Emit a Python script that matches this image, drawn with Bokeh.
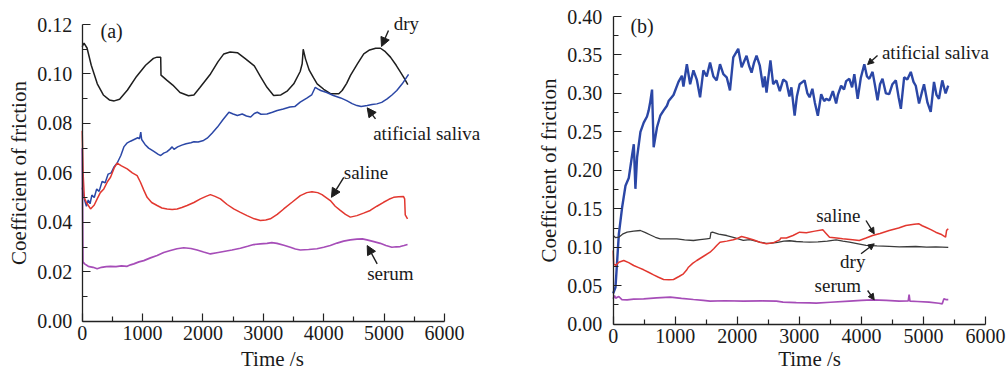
from bokeh.plotting import figure
from bokeh.layouts import row
from bokeh.models import FixedTicker, NumeralTickFormatter, Label, Arrow, NormalHead
from bokeh.embed import file_html
from bokeh.resources import INLINE

# ---------------- data ----------------
x_ticks = [0, 1000, 2000, 3000, 4000, 5000, 6000]
x_minor = [500, 1500, 2500, 3500, 4500, 5500]
ya_ticks = [0.00, 0.02, 0.04, 0.06, 0.08, 0.10, 0.12]
ya_minor = [0.01, 0.03, 0.05, 0.07, 0.09, 0.11]
yb_ticks = [0.00, 0.05, 0.10, 0.15, 0.20, 0.25, 0.30, 0.35, 0.40]
yb_minor = [0.025, 0.075, 0.125, 0.175, 0.225, 0.275, 0.325, 0.375]

# panel (a)
dry_a_t = [0, 30, 80, 150, 250, 350, 450, 530, 620, 750, 900, 1050, 1180, 1240, 1300, 1305, 1400, 1500, 1620, 1760, 1850, 1950, 2125, 2250, 2345, 2450, 2570, 2700, 2850, 2950, 3060, 3170, 3290, 3400, 3504, 3610, 3643, 3660, 3698, 3760, 3830, 3891, 4000, 4112, 4250, 4305, 4380, 4443, 4560, 4663, 4760, 4860, 4940, 5020, 5105, 5200, 5271, 5340, 5392]
dry_a_v = [0.1110, 0.1125, 0.1105, 0.1035, 0.0960, 0.0915, 0.0895, 0.0891, 0.0898, 0.0935, 0.0990, 0.1035, 0.1063, 0.1068, 0.1068, 0.0995, 0.0975, 0.0955, 0.0925, 0.0912, 0.0915, 0.0945, 0.1000, 0.1050, 0.1081, 0.1089, 0.1086, 0.1062, 0.1033, 0.0990, 0.0946, 0.0913, 0.0915, 0.0932, 0.0960, 0.1010, 0.1041, 0.1100, 0.1061, 0.1015, 0.0985, 0.0960, 0.0938, 0.0920, 0.0920, 0.0933, 0.0962, 0.0994, 0.1042, 0.1081, 0.1097, 0.1104, 0.1104, 0.1090, 0.1068, 0.1035, 0.1007, 0.0980, 0.0957]

sal_a_t = [0, 40, 70, 100, 130, 160, 200, 240, 280, 330, 380, 430, 480, 530, 580, 640, 690, 740, 800, 860, 920, 950, 970, 985, 1040, 1100, 1180, 1260, 1300, 1350, 1400, 1450, 1490, 1520, 1580, 1650, 1720, 1800, 1850, 1920, 2010, 2070, 2150, 2240, 2330, 2430, 2500, 2570, 2650, 2720, 2790, 2850, 2900, 2960, 3060, 3150, 3230, 3330, 3440, 3520, 3610, 3720, 3800, 3860, 3900, 3950, 4050, 4160, 4280, 4380, 4470, 4550, 4620, 4720, 4800, 4880, 4960, 5050, 5130, 5210, 5300, 5405]
sal_a_v = [0.0540, 0.0490, 0.0465, 0.0490, 0.0475, 0.0510, 0.0500, 0.0535, 0.0525, 0.0565, 0.0560, 0.0595, 0.0600, 0.0625, 0.0640, 0.0670, 0.0705, 0.0720, 0.0728, 0.0735, 0.0742, 0.0738, 0.0765, 0.0735, 0.0715, 0.0700, 0.0688, 0.0675, 0.0670, 0.0680, 0.0685, 0.0695, 0.0705, 0.0695, 0.0705, 0.0712, 0.0718, 0.0722, 0.0726, 0.0725, 0.0731, 0.0740, 0.0760, 0.0785, 0.0815, 0.0845, 0.0838, 0.0832, 0.0838, 0.0830, 0.0826, 0.0840, 0.0845, 0.0837, 0.0838, 0.0845, 0.0852, 0.0858, 0.0866, 0.0868, 0.0886, 0.0902, 0.0915, 0.0946, 0.0940, 0.0933, 0.0925, 0.0913, 0.0903, 0.0892, 0.0880, 0.0872, 0.0868, 0.0872, 0.0876, 0.0879, 0.0885, 0.0899, 0.0915, 0.0933, 0.0960, 0.0998]

saline_a_t = [0, 15, 35, 70, 138, 200, 248, 300, 358, 420, 469, 530, 579, 650, 745, 830, 910, 965, 1020, 1075, 1150, 1241, 1320, 1406, 1490, 1572, 1650, 1737, 1850, 1958, 2050, 2123, 2200, 2289, 2400, 2509, 2620, 2730, 2850, 2951, 3040, 3116, 3230, 3337, 3480, 3612, 3720, 3805, 3900, 3971, 4040, 4109, 4190, 4274, 4360, 4440, 4550, 4660, 4770, 4880, 4991, 5080, 5157, 5240, 5322, 5340, 5350, 5388]
saline_a_v = [0.0770, 0.0600, 0.0500, 0.0480, 0.0454, 0.0470, 0.0495, 0.0520, 0.0535, 0.0565, 0.0582, 0.0620, 0.0639, 0.0628, 0.0616, 0.0600, 0.0589, 0.0562, 0.0530, 0.0501, 0.0480, 0.0468, 0.0458, 0.0454, 0.0452, 0.0454, 0.0460, 0.0468, 0.0480, 0.0495, 0.0505, 0.0512, 0.0505, 0.0495, 0.0472, 0.0454, 0.0440, 0.0427, 0.0414, 0.0407, 0.0409, 0.0414, 0.0432, 0.0454, 0.0482, 0.0508, 0.0520, 0.0524, 0.0520, 0.0512, 0.0500, 0.0488, 0.0465, 0.0448, 0.0432, 0.0421, 0.0427, 0.0437, 0.0448, 0.0465, 0.0481, 0.0493, 0.0501, 0.0503, 0.0504, 0.0495, 0.0430, 0.0414]

serum_a_t = [0, 12, 40, 100, 180, 248, 320, 400, 469, 560, 650, 745, 800, 855, 940, 1020, 1130, 1241, 1350, 1461, 1570, 1682, 1800, 1903, 2010, 2123, 2230, 2344, 2480, 2620, 2740, 2840, 2950, 3061, 3140, 3226, 3340, 3447, 3530, 3612, 3750, 3888, 4000, 4109, 4220, 4329, 4440, 4550, 4640, 4715, 4830, 4936, 5030, 5129, 5200, 5267, 5330, 5388]
serum_a_v = [0.0700, 0.0240, 0.0232, 0.0222, 0.0218, 0.0212, 0.0218, 0.0221, 0.0222, 0.0221, 0.0224, 0.0222, 0.0228, 0.0232, 0.0240, 0.0245, 0.0256, 0.0266, 0.0278, 0.0286, 0.0293, 0.0297, 0.0294, 0.0288, 0.0280, 0.0272, 0.0277, 0.0282, 0.0288, 0.0295, 0.0303, 0.0310, 0.0313, 0.0315, 0.0318, 0.0315, 0.0307, 0.0299, 0.0292, 0.0288, 0.0290, 0.0293, 0.0299, 0.0306, 0.0316, 0.0324, 0.0329, 0.0332, 0.0333, 0.0329, 0.0322, 0.0315, 0.0306, 0.0299, 0.0301, 0.0302, 0.0306, 0.0310]

# panel (b)
sal_b_t = [0, 37, 91, 144, 198, 251, 305, 332, 358, 385, 439, 492, 545, 572, 599, 626, 652, 706, 759, 813, 866, 893, 972, 1052, 1107, 1132, 1187, 1240, 1293, 1347, 1400, 1453, 1507, 1561, 1615, 1668, 1721, 1775, 1829, 1882, 1935, 2015, 2070, 2149, 2190, 2230, 2270, 2310, 2363, 2416, 2443, 2471, 2534, 2578, 2630, 2685, 2740, 2791, 2840, 2872, 2924, 2960, 3004, 3084, 3130, 3165, 3210, 3250, 3298, 3352, 3400, 3433, 3485, 3540, 3593, 3621, 3673, 3720, 3754, 3806, 3850, 3886, 3940, 3990, 4047, 4090, 4127, 4180, 4220, 4260, 4300, 4340, 4395, 4448, 4500, 4555, 4600, 4636, 4689, 4740, 4796, 4840, 4876, 4929, 4970, 5009, 5065, 5117, 5170, 5210, 5250, 5303, 5357, 5399]
sal_b_v = [0.040, 0.048, 0.117, 0.152, 0.180, 0.190, 0.220, 0.234, 0.176, 0.217, 0.250, 0.262, 0.270, 0.278, 0.290, 0.305, 0.230, 0.256, 0.271, 0.278, 0.284, 0.290, 0.298, 0.315, 0.323, 0.309, 0.338, 0.312, 0.330, 0.318, 0.295, 0.330, 0.322, 0.340, 0.322, 0.317, 0.338, 0.325, 0.321, 0.304, 0.347, 0.358, 0.334, 0.349, 0.336, 0.327, 0.340, 0.349, 0.336, 0.308, 0.322, 0.301, 0.343, 0.312, 0.317, 0.303, 0.318, 0.315, 0.296, 0.308, 0.271, 0.296, 0.312, 0.317, 0.300, 0.295, 0.306, 0.288, 0.271, 0.299, 0.290, 0.293, 0.291, 0.303, 0.287, 0.298, 0.310, 0.305, 0.316, 0.319, 0.308, 0.325, 0.293, 0.320, 0.338, 0.322, 0.319, 0.328, 0.310, 0.291, 0.312, 0.319, 0.300, 0.299, 0.312, 0.317, 0.295, 0.280, 0.321, 0.318, 0.328, 0.315, 0.310, 0.287, 0.300, 0.312, 0.288, 0.276, 0.315, 0.298, 0.293, 0.317, 0.300, 0.310]

dry_b_t = [0, 40, 90, 150, 224, 330, 438, 520, 600, 680, 759, 900, 1026, 1150, 1293, 1400, 1507, 1560, 1575, 1600, 1700, 1829, 1950, 2096, 2202, 2300, 2364, 2450, 2524, 2650, 2750, 2844, 2950, 3060, 3165, 3300, 3450, 3593, 3700, 3807, 3950, 4075, 4250, 4450, 4610, 4876, 5050, 5200, 5400]
dry_b_v = [0.1153, 0.1125, 0.1131, 0.1170, 0.1196, 0.1210, 0.1218, 0.1190, 0.1160, 0.1130, 0.1110, 0.1108, 0.1110, 0.1095, 0.1088, 0.1100, 0.1110, 0.1115, 0.1190, 0.1196, 0.1170, 0.1153, 0.1125, 0.1090, 0.1100, 0.1080, 0.1066, 0.1055, 0.1050, 0.1065, 0.1080, 0.1085, 0.1075, 0.1070, 0.1066, 0.1070, 0.1080, 0.1097, 0.1080, 0.1066, 0.1045, 0.1025, 0.1018, 0.1012, 0.1005, 0.1010, 0.1003, 0.1005, 0.0998]

saline_b_t = [0, 8, 40, 90, 170, 250, 330, 410, 491, 570, 651, 730, 812, 900, 972, 1060, 1132, 1180, 1213, 1280, 1347, 1450, 1561, 1620, 1668, 1721, 1830, 1935, 2000, 2069, 2160, 2255, 2363, 2470, 2576, 2684, 2700, 2791, 2897, 3004, 3112, 3250, 3378, 3420, 3486, 3600, 3699, 3859, 3966, 4075, 4180, 4300, 4448, 4600, 4716, 4850, 4929, 4980, 5036, 5120, 5197, 5280, 5357, 5373, 5400]
saline_b_v = [0.0958, 0.0780, 0.0765, 0.0806, 0.0828, 0.0800, 0.0763, 0.0735, 0.0707, 0.0675, 0.0642, 0.0610, 0.0581, 0.0578, 0.0581, 0.0620, 0.0655, 0.0700, 0.0741, 0.0790, 0.0828, 0.0880, 0.0936, 0.0980, 0.1023, 0.1066, 0.1080, 0.1097, 0.1115, 0.1140, 0.1120, 0.1097, 0.1066, 0.1045, 0.1058, 0.1097, 0.1120, 0.1120, 0.1153, 0.1196, 0.1190, 0.1210, 0.1227, 0.1190, 0.1131, 0.1120, 0.1110, 0.1097, 0.1088, 0.1120, 0.1153, 0.1180, 0.1218, 0.1250, 0.1283, 0.1300, 0.1305, 0.1280, 0.1261, 0.1230, 0.1196, 0.1170, 0.1131, 0.1220, 0.1240]

serum_b_t = [0, 20, 40, 90, 140, 224, 330, 491, 700, 919, 1100, 1293, 1450, 1561, 1800, 2096, 2400, 2631, 2737, 2950, 3165, 3272, 3500, 3807, 4000, 4180, 4400, 4608, 4755, 4769, 4782, 4900, 5090, 5250, 5303, 5330, 5360, 5400]
serum_b_v = [0.0330, 0.0373, 0.0339, 0.0360, 0.0320, 0.0317, 0.0325, 0.0330, 0.0343, 0.0351, 0.0335, 0.0321, 0.0310, 0.0299, 0.0305, 0.0299, 0.0302, 0.0299, 0.0286, 0.0280, 0.0278, 0.0273, 0.0285, 0.0300, 0.0310, 0.0317, 0.0310, 0.0300, 0.0303, 0.0386, 0.0300, 0.0295, 0.0286, 0.0272, 0.0265, 0.0330, 0.0320, 0.0320]

# ---------------- styling ----------------
FONT = "Liberation Serif"
BLACK = "#1e1e1e"
BLUE = "#2b47a6"
RED = "#e2372f"
PURPLE = "#a64db8"
TXT = "#1a1a1a"
H = 372


def base_fig(width, xr, yr, xb, yb, yt, ym, ystand):
    # the frame fills the canvas; the axes sit at x=0 / y=0 and span only their bounds
    p = figure(width=width, height=H, x_range=xr, y_range=yr,
               output_backend="svg", toolbar_location=None,
               min_border_left=0, min_border_right=0,
               min_border_top=0, min_border_bottom=0)
    p.grid.visible = False
    p.outline_line_color = None
    p.background_fill_color = "white"
    p.border_fill_color = "white"
    for ax in (p.xaxis[0], p.yaxis[0]):
        ax.fixed_location = 0
        ax.axis_line_color = "#222222"
        ax.axis_line_width = 1.3
        ax.major_tick_line_color = "#222222"
        ax.major_tick_line_width = 1.2
        ax.minor_tick_line_color = "#222222"
        ax.minor_tick_line_width = 1.2
        ax.major_tick_in = 8
        ax.major_tick_out = 0
        ax.minor_tick_in = 5
        ax.minor_tick_out = 0
        ax.major_label_text_font = FONT
        ax.major_label_text_font_size = "20px"
        ax.major_label_text_color = TXT
    p.xaxis.bounds = xb
    p.yaxis.bounds = yb
    p.xaxis.ticker = FixedTicker(ticks=x_ticks, minor_ticks=x_minor)
    p.xaxis.major_label_standoff = 5
    p.yaxis.ticker = FixedTicker(ticks=yt, minor_ticks=ym)
    p.yaxis.formatter = NumeralTickFormatter(format="0.00")
    p.yaxis.major_label_standoff = ystand
    p.yaxis.axis_label = "Coefficient of friction"
    p.yaxis.axis_label_text_font = FONT
    p.yaxis.axis_label_text_font_size = "21px"
    p.yaxis.axis_label_text_font_style = "normal"
    p.yaxis.axis_label_text_color = TXT
    p.yaxis.axis_label_standoff = 4
    return p


def add_text(p, x, y, text, size="19px", align="left", baseline="middle"):
    p.add_layout(Label(x=x, y=y, text=text, text_font=FONT, text_font_size=size,
                       text_color=TXT, text_align=align, text_baseline=baseline))


def add_arrow(p, xs, ys, xe, ye, size):
    p.add_layout(Arrow(end=NormalHead(size=size, fill_color=BLACK, line_color=BLACK, line_width=1),
                       x_start=xs, y_start=ys, x_end=xe, y_end=ye,
                       line_color=BLACK, line_width=1.4))


# ---------------- panel (a) ----------------
# canvas 500 x 372: x=0 at 81.7 px, x=6000 at 444 px; y=0 at 320.7 px, y=0.12 at 24 px
pa = base_fig(500, (-1353.0, 6927.4), (-0.020748, 0.129707), (0, 6000), (0, 0.12),
              ya_ticks, ya_minor, 10)
pa.line(dry_a_t, dry_a_v, line_color=BLACK, line_width=1.5)
pa.line(sal_a_t, sal_a_v, line_color=BLUE, line_width=1.5)
pa.line(saline_a_t, saline_a_v, line_color=RED, line_width=1.5)
pa.line(serum_a_t, serum_a_v, line_color=PURPLE, line_width=1.7)

add_text(pa, 303, 0.1172, "(a)", size="20px")
add_text(pa, 5160, 0.1203, "dry")
add_arrow(pa, 5072, 0.1176, 4957, 0.1111, 9)
add_text(pa, 4819, 0.0760, "atificial saliva")
add_arrow(pa, 4857, 0.0818, 4720, 0.0863, 9)
add_text(pa, 4332, 0.0600, "saline")
add_arrow(pa, 4332, 0.0582, 4128, 0.0501, 9)
add_text(pa, 4720, 0.0192, "serum")
add_arrow(pa, 4885, 0.0232, 4720, 0.0306, 9)
add_text(pa, 3150, -0.02030, "Time /s", size="21px", align="center", baseline="bottom")

# ---------------- panel (b) ----------------
# canvas 506 x 372: x=0 at 112.7 px, x=6000 at 485 px; y=0 at 323.7 px, y=0.40 at 16 px
pb = base_fig(506, (-1816.3, 6338.4), (-0.06279, 0.4208), (0, 6000), (0, 0.40),
              yb_ticks, yb_minor, 11)
pb.line(sal_b_t, sal_b_v, line_color=BLUE, line_width=2.4)
pb.line(dry_b_t, dry_b_v, line_color="#3a3a3a", line_width=1.3)
pb.line(saline_b_t, saline_b_v, line_color=RED, line_width=1.5)
pb.line(serum_b_t, serum_b_v, line_color=PURPLE, line_width=1.7)

add_text(pb, 277, 0.3883, "(b)", size="20px")
add_text(pb, 4331, 0.3528, "atificial saliva")
add_arrow(pb, 4260, 0.3493, 4100, 0.3376, 6)
add_text(pb, 3272, 0.1413, "saline")
add_arrow(pb, 4074, 0.1348, 4207, 0.1175, 6)
add_text(pb, 3657, 0.0819, "dry")
add_arrow(pb, 3994, 0.0915, 4207, 0.1045, 6)
add_text(pb, 3245, 0.0503, "serum")
add_arrow(pb, 4100, 0.0438, 4207, 0.0317, 6)
add_text(pb, 3165, -0.0614, "Time /s", size="21px", align="center", baseline="bottom")

layout = row(pa, pb)
open("out.html", "w").write(file_html(layout, INLINE))
